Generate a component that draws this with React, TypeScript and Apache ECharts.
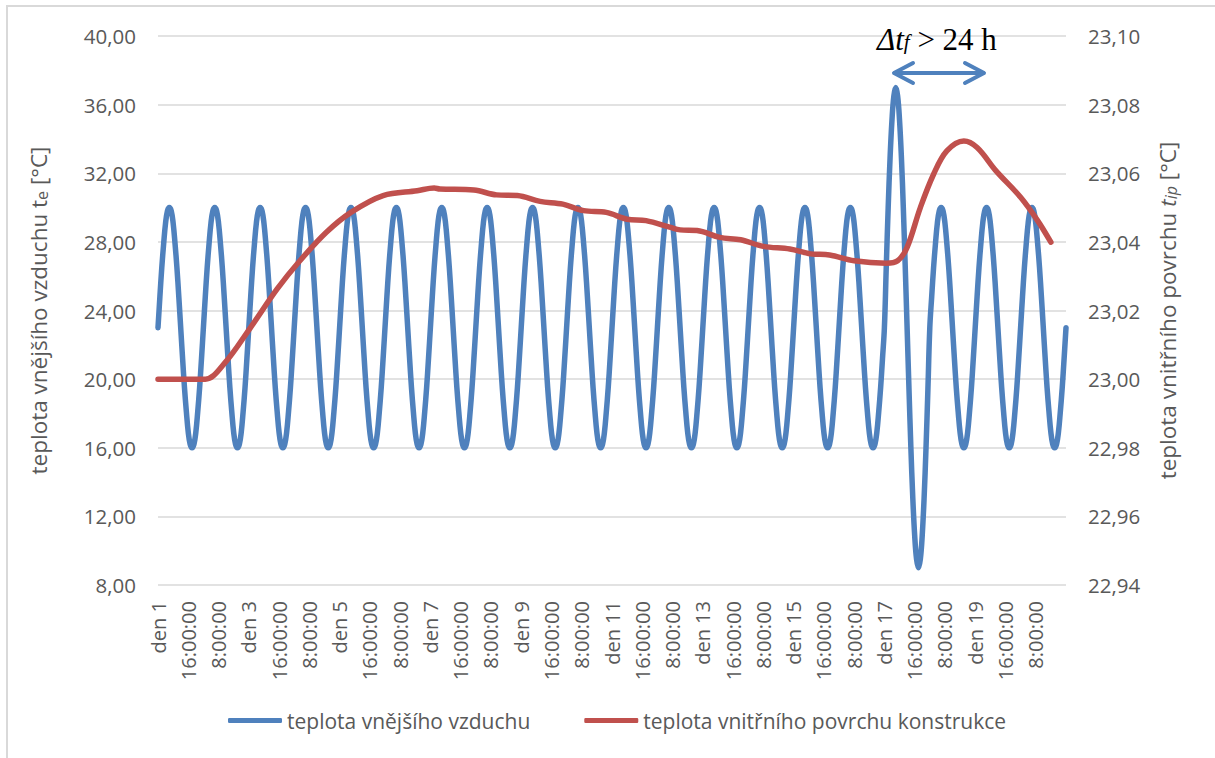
import React, { useEffect, useRef } from "react";
import * as echarts from "echarts";

// x-axis tick labels, one every 16 hours (0 h, 16 h, 32 h, ...)
const TICK_LABELS = [
  "den 1", "16:00:00", "8:00:00", "den 3", "16:00:00", "8:00:00",
  "den 5", "16:00:00", "8:00:00", "den 7", "16:00:00", "8:00:00",
  "den 9", "16:00:00", "8:00:00", "den 11", "16:00:00", "8:00:00",
  "den 13", "16:00:00", "8:00:00", "den 15", "16:00:00", "8:00:00",
  "den 17", "16:00:00", "8:00:00", "den 19", "16:00:00", "8:00:00",
];
const LABEL_STEP_HOURS = 16;

// outside air temperature, hourly profile of an ordinary day [°C]
const OUTSIDE_NORMAL_DAY = [
  23.0, 24.8, 26.5, 27.9, 29.1, 29.8, 30.0, 29.8, 29.1, 27.9, 26.5, 24.8,
  23.0, 21.2, 19.5, 18.1, 16.9, 16.2, 16.0, 16.2, 16.9, 18.1, 19.5, 21.2,
];
// hourly profile of the extreme day (den 17) [°C]
const OUTSIDE_EXTREME_DAY = [
  23.0, 26.6, 30.0, 32.9, 35.1, 36.5, 37.0, 36.5, 35.1, 32.9, 30.0, 26.6,
  23.0, 19.4, 16.0, 13.1, 10.9, 9.5, 9.0, 9.5, 10.9, 13.1, 16.0, 19.4,
];
// which profile each of the 20 days follows
const DAY_KIND = [
  "n", "n", "n", "n", "n", "n", "n", "n", "n", "n",
  "n", "n", "n", "n", "n", "n", "x", "n", "n", "n",
];
// value at the very end of the record (start of the next day)
const OUTSIDE_END = [23.0];

// inner surface temperature [°C], read at these hours
const INNER_HOURS = [
  0, 25, 35, 49, 63, 75, 89, 102, 119, 137,
  146, 149, 167, 179, 190, 202, 214, 225, 237, 248,
  258, 271, 276, 285, 297, 308, 320, 334, 345, 355,
  368, 385, 391, 396, 403, 410, 417, 426, 433, 443,
  456, 465, 472,
];
const INNER_VALUES = [
  23.0, 23.0, 23.0045, 23.0151, 23.0263, 23.0345, 23.0428, 23.0486, 23.0535, 23.0549,
  23.0557, 23.0554, 23.0551, 23.0537, 23.0535, 23.0518, 23.051, 23.0491, 23.0486, 23.0466,
  23.0462, 23.0442, 23.0435, 23.0433, 23.0413, 23.0406, 23.0387, 23.0379, 23.0365, 23.0362,
  23.0345, 23.0338, 23.0345, 23.0384, 23.05, 23.0597, 23.0665, 23.0694, 23.0675, 23.0607,
  23.053, 23.0462, 23.0399,
];

const SERIES_NAMES = ["teplota vnějšího vzduchu", "teplota vnitřního povrchu konstrukce"];

const BLUE = "#4F81BD";
const RED = "#C0504D";
const TEXT = "#595959";
const GRID = "#D9D9D9";
const FONT = "'Open Sans', sans-serif";
const SERIF = "'Liberation Serif', 'DejaVu Serif', serif";

export default function App() {
  const ref = useRef<HTMLDivElement>(null);

  useEffect(() => {
    if (!ref.current) return;
    const chart = echarts.init(ref.current, undefined, { renderer: "svg" });

    const outside: number[] = [];
    DAY_KIND.forEach((k) => {
      outside.push(...(k === "x" ? OUTSIDE_EXTREME_DAY : OUTSIDE_NORMAL_DAY));
    });
    outside.push(...OUTSIDE_END);
    const categories = outside.map((_, i) => String(i));
    const inner = INNER_HOURS.map((h, i) => [h, INNER_VALUES[i]]);

    const fmt = (v: number) => v.toFixed(2).replace(".", ",");

    const nameRich = {
      m: { fontFamily: FONT, fontSize: 22.5, color: TEXT, padding: [0, 0, 6, 0] },
      s: { fontFamily: FONT, fontSize: 16, color: TEXT },
      mi: { fontFamily: FONT, fontSize: 22.5, color: TEXT, fontStyle: "italic", padding: [0, 0, 6, 0] },
      si: { fontFamily: FONT, fontSize: 16, color: TEXT, fontStyle: "italic" },
    };

    chart.setOption({
      animation: false,
      backgroundColor: "#ffffff",
      grid: { left: 158, right: 149, top: 36, bottom: 173, containLabel: false },
      xAxis: {
        type: "category",
        data: categories,
        boundaryGap: false,
        axisLine: { show: false },
        axisTick: { show: false },
        splitLine: { show: false },
        axisLabel: {
          interval: LABEL_STEP_HOURS - 1,
          rotate: 90,
          margin: 16,
          color: TEXT,
          fontFamily: FONT,
          fontSize: 20,
          formatter: (_v: string, idx: number) =>
            idx % LABEL_STEP_HOURS === 0 && TICK_LABELS[idx / LABEL_STEP_HOURS]
              ? TICK_LABELS[idx / LABEL_STEP_HOURS]
              : "",
        },
      },
      yAxis: [
        {
          type: "value",
          min: 8,
          max: 40,
          interval: 4,
          position: "left",
          axisLine: { show: false },
          axisTick: { show: false },
          splitLine: { show: true, lineStyle: { color: GRID, width: 1.5 } },
          axisLabel: { color: TEXT, fontFamily: FONT, fontSize: 20.5, margin: 22, formatter: fmt },
          name: "{m|teplota vnějšího vzduchu t}{s|e}{m| [°C]}",
          nameLocation: "middle",
          nameRotate: 90,
          nameGap: 102,
          nameTextStyle: { rich: nameRich },
        },
        {
          type: "value",
          min: 22.94,
          max: 23.1,
          interval: 0.02,
          position: "right",
          axisLine: { show: false },
          axisTick: { show: false },
          splitLine: { show: false },
          axisLabel: { color: TEXT, fontFamily: FONT, fontSize: 20.5, margin: 22, formatter: fmt },
          name: "{m|teplota vnitřního povrchu }{mi|t}{si|ip}{m| [°C]}",
          nameLocation: "middle",
          nameRotate: 90,
          nameGap: 90,
          nameTextStyle: { rich: nameRich },
        },
      ],
      legend: {
        left: 223,
        top: 705,
        itemWidth: 54,
        itemHeight: 5,
        itemGap: 54,
        icon: "roundRect",
        textStyle: { color: TEXT, fontFamily: FONT, fontSize: 21 },
        data: SERIES_NAMES,
      },
      series: [
        {
          name: SERIES_NAMES[0],
          type: "line",
          data: outside,
          yAxisIndex: 0,
          symbol: "none",
          smooth: 0.4,
          color: BLUE,
          lineStyle: { color: BLUE, width: 5.5, cap: "round", join: "round" },
          z: 2,
        },
        {
          name: SERIES_NAMES[1],
          type: "line",
          data: inner,
          yAxisIndex: 1,
          symbol: "none",
          smooth: 0.35,
          color: RED,
          lineStyle: { color: RED, width: 5.5, cap: "round", join: "round" },
          z: 3,
        },
      ],
      graphic: [
        {
          type: "rect",
          silent: true,
          shape: { x: 7, y: 6, width: 1220, height: 770 },
          style: { fill: "none", stroke: GRID, lineWidth: 2 },
          z: 0,
        },
        {
          type: "line",
          shape: { x1: 895, y1: 73, x2: 983, y2: 73 },
          style: { stroke: BLUE, lineWidth: 4, lineCap: "round" },
          z: 10,
        },
        {
          type: "polyline",
          shape: { points: [[913, 63], [894, 73], [913, 83]] },
          style: { stroke: BLUE, lineWidth: 4, fill: "none", lineCap: "round", lineJoin: "round" },
          z: 10,
        },
        {
          type: "polyline",
          shape: { points: [[965, 63], [984, 73], [965, 83]] },
          style: { stroke: BLUE, lineWidth: 4, fill: "none", lineCap: "round", lineJoin: "round" },
          z: 10,
        },
        {
          type: "text",
          x: 877,
          y: 24,
          z: 10,
          style: {
            text: "{a|Δt}{s|f}{b| > 24 h}",
            rich: {
              a: { fontFamily: SERIF, fontSize: 31, fontStyle: "italic", fill: "#000", padding: [0, 0, 5, 0] },
              s: { fontFamily: SERIF, fontSize: 21, fontStyle: "italic", fill: "#000" },
              b: { fontFamily: SERIF, fontSize: 31, fill: "#000", padding: [0, 0, 5, 0] },
            },
          },
        },
      ],
    });

    return () => chart.dispose();
  }, []);

  return (
    <div
      ref={ref}
      style={{ position: "fixed", left: 0, top: 0, width: 1215, height: 758, background: "#fff" }}
    />
  );
}
